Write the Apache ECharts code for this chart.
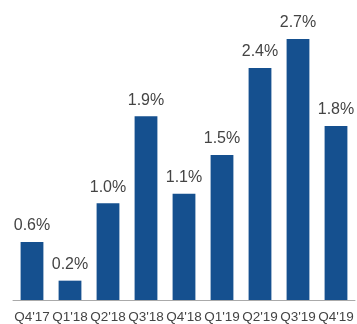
<!DOCTYPE html>
<html style="height: 100%">
<head>
<meta charset="utf-8">
<script src="https://cdn.jsdelivr.net/npm/echarts@6/dist/echarts.min.js"></script>
<style>*{margin:0;padding:0;}</style>
</head>
<body style="height: 100%; margin: 0">
<div id="container" style="width:357px;height:324px"></div>
<script>
var quarters = ["Q4'17", "Q1'18", "Q2'18", "Q3'18", "Q4'18", "Q1'19", "Q2'19", "Q3'19", "Q4'19"];
var growth = [0.6, 0.2, 1.0, 1.9, 1.1, 1.5, 2.4, 2.7, 1.8];

var chart = echarts.init(document.getElementById('container'));
var option = {
  animation: false,
  grid: {left: 13, right: 2, top: 10, bottom: 24},
  xAxis: {
    type: 'category',
    data: quarters,
    axisLine: {lineStyle: {color: '#aaa', width: 1}},
    axisTick: {length: 3, lineStyle: {color: '#aaa'}},
    axisLabel: {interval: 0, margin: 10, color: '#444', fontSize: 13.5, fontFamily: 'Liberation Sans, Arial'}
  },
  yAxis: {
    type: 'value', min: 0, max: 3, show: false,
    splitLine: {show: false}
  },
  series: [{
    type: 'bar',
    data: growth,
    barWidth: '60%',
    itemStyle: {color: '#15508f'},
    label: {
      show: true, position: 'top', distance: 8,
      color: '#444', fontSize: 16, fontFamily: 'Liberation Sans, Arial',
      formatter: function (p) { return p.value.toFixed(1) + '%'; }
    }
  }]
};
chart.setOption(option);
</script>
</body>
</html>
